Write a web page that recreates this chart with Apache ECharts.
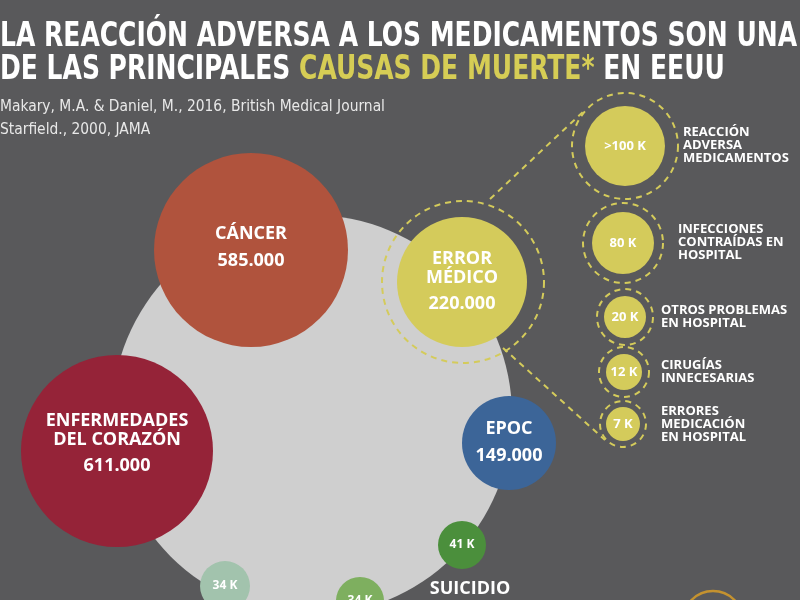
<!DOCTYPE html>
<html><head><meta charset="utf-8">
<script src="https://cdn.jsdelivr.net/npm/echarts/dist/echarts.min.js"></script>
<style>html,body{margin:0;padding:0;background:#59595b}#c{width:800px;height:600px}</style>
</head><body><div id="c"></div><script>
// ---------- data ----------
const titleLine1 = 'LA REACCIÓN ADVERSA A LOS MEDICAMENTOS SON UNA';
const titleLine2a = 'DE LAS PRINCIPALES ';
const titleHighlight = 'CAUSAS DE MUERTE*';
const titleLine2b = ' EN EEUU';
const sources = ['Makary, M.A. & Daniel, M., 2016, British Medical Journal', 'Starfield., 2000, JAMA'];

const causes = ['CÁNCER', 'ENFERMEDADES\nDEL CORAZÓN', 'ERROR\nMÉDICO', 'EPOC'];
const causeDeaths = [585000, 611000, 220000, 149000];

const minorCauses = ['SUICIDIO', '', ''];
const minorDeathsK = [41, 34, 34];

const errorTypes = ['REACCIÓN\nADVERSA\nMEDICAMENTOS', 'INFECCIONES\nCONTRAÍDAS EN\nHOSPITAL', 'OTROS PROBLEMAS\nEN HOSPITAL', 'CIRUGÍAS\nINNECESARIAS', 'ERRORES\nMEDICACIÓN\nEN HOSPITAL'];
const errorDeathsK = [100, 80, 20, 12, 7];
const errorQualifier = ['>', '', '', '', ''];

// ---------- layout (px: x, y, radius) ----------
const backdrop = [312, 415, 200];
const causeLayout = [[251, 250, 97], [117, 451, 96], [462, 282, 65], [509, 443, 47]];
const causeLabelDy = [-3, -8, -1, -1];
const causeColors = ['#b0533d', '#952338', '#d4cb5b', '#3c6598'];
const errorMainRing = [463, 282, 81];
const minorLayout = [[462, 545, 24], [225, 586, 25], [360, 601, 24]];
const minorColors = ['#4b8f3c', '#a2c3ad', '#7eaf5f'];
const errorLayout = [[625, 146, 40], [623, 243, 31], [625, 317, 21], [624, 372, 18], [623, 424, 17]];
const errorRing = [53, 40, 28, 25, 23];
const errorLabelX = [682, 677, 660, 660, 660];
const errorLabelDy = [-1, -1, 0, 0, 0];
const connectors = [[[490, 199], [585, 110]], [[503, 348], [605, 440]]];
const goldRing = [713, 621, 30];

const YEL = '#d4cb5b';
const cond = '"DejaVu Sans Condensed", "Liberation Sans Narrow", sans-serif';
const bold = '"Open Sans", "Noto Sans", sans-serif';
const fmt = n => String(n).replace(/\B(?=(\d{3})+(?!\d))/g, '.');

const chart = echarts.init(document.getElementById('c'), null, {renderer: 'canvas'});
chart.setOption({
  backgroundColor: '#59595b',
  animation: false,
  graphic: [{
    type: 'text', x: 0, y: 21, scaleX: 0.818, silent: true,
    style: {
      text: titleLine1 + '\n' + titleLine2a + '{y|' + titleHighlight + '}' + titleLine2b,
      fill: '#ffffff', fontSize: 34, fontWeight: 'bold', fontFamily: cond, lineHeight: 33, verticalAlign: 'top',
      rich: {y: {fill: '#d6cd55', fontSize: 34, fontWeight: 'bold', fontFamily: cond, lineHeight: 33}}
    }
  }],
  title: [{
    left: 0, top: 95, padding: 0,
    text: sources.join('\n'),
    textStyle: {color: '#e8e8e8', fontSize: 15.4, fontWeight: 'normal', fontFamily: cond, lineHeight: 23}
  }],
  grid: {left: 0, right: 0, top: 0, bottom: 0},
  xAxis: {type: 'value', min: 0, max: 800, show: false},
  yAxis: {type: 'value', min: 0, max: 600, inverse: true, show: false},
  series: [
    { type: 'scatter', silent: true, z: 1, clip: false,
      data: [[backdrop[0], backdrop[1]]], symbolSize: backdrop[2] * 2,
      itemStyle: {color: '#cfcfcf', opacity: 1} },
    { type: 'lines', coordinateSystem: 'cartesian2d', silent: true, z: 2,
      data: connectors.map(c => ({coords: c})),
      lineStyle: {color: YEL, width: 2, type: [6, 5], opacity: 1} },
    { type: 'scatter', silent: true, z: 3, clip: false,
      data: [{value: [errorMainRing[0], errorMainRing[1]], symbolSize: errorMainRing[2] * 2}].concat(
        errorLayout.map((p, i) => ({
          value: [p[0], p[1]], symbolSize: errorRing[i] * 2, name: errorTypes[i],
          label: {show: true, position: 'right', offset: [0, errorLabelDy[i]], distance: errorLabelX[i] - p[0] - errorRing[i]}
        }))),
      itemStyle: {color: 'rgba(0,0,0,0)', borderColor: YEL, borderWidth: 2, borderType: [6, 5], opacity: 1},
      label: {show: false, formatter: p => p.name, color: '#ffffff', fontFamily: bold, fontWeight: 'bold', fontSize: 13, lineHeight: 13, align: 'left'} },
    { type: 'scatter', silent: true, z: 4, clip: false,
      data: causes.map((n, i) => ({
        value: [causeLayout[i][0], causeLayout[i][1]], symbolSize: causeLayout[i][2] * 2, name: n,
        itemStyle: {color: causeColors[i]},
        label: {offset: [0, causeLabelDy[i]], formatter: n.split('\n').map(s => '{n|' + s + '}').join('\n') + '\n{v|' + fmt(causeDeaths[i]) + '}'}
      })),
      itemStyle: {opacity: 1},
      label: {show: true, position: 'inside', color: '#ffffff',
        rich: {n: {color: '#ffffff', fontFamily: bold, fontWeight: 'bold', fontSize: 18, lineHeight: 19, align: 'center'},
               v: {color: '#ffffff', fontFamily: bold, fontWeight: 'bold', fontSize: 18, lineHeight: 26, align: 'center', verticalAlign: 'bottom'}}} },
    { type: 'scatter', silent: true, z: 4, clip: false,
      data: errorLayout.map((p, i) => ({value: [p[0], p[1]], symbolSize: p[2] * 2, name: errorQualifier[i] + errorDeathsK[i] + ' K'})),
      itemStyle: {color: YEL, opacity: 1},
      label: {show: true, position: 'inside', formatter: p => p.name, color: '#ffffff', fontFamily: bold, fontWeight: 'bold', fontSize: 13} },
    { type: 'scatter', silent: true, z: 4, clip: false,
      data: minorLayout.map((p, i) => ({value: [p[0], p[1]], symbolSize: p[2] * 2, name: minorDeathsK[i] + ' K', itemStyle: {color: minorColors[i]}})),
      itemStyle: {opacity: 1},
      label: {show: true, position: 'inside', formatter: p => p.name, color: '#ffffff', fontFamily: bold, fontWeight: 'bold', fontSize: 12} },
    { type: 'scatter', silent: true, z: 5, clip: false,
      data: minorLayout.map((p, i) => ({value: [p[0], p[1]], symbolSize: p[2] * 2, name: minorCauses[i]})),
      itemStyle: {color: 'rgba(0,0,0,0)', opacity: 1},
      label: {show: true, position: 'bottom', distance: 10, offset: [8, 0], formatter: p => p.name, color: '#ffffff', fontFamily: bold, fontWeight: 'bold', fontSize: 18, lineHeight: 20} },
    { type: 'scatter', silent: true, z: 3, clip: false,
      data: [[goldRing[0], goldRing[1]]], symbolSize: goldRing[2] * 2,
      itemStyle: {color: 'rgba(0,0,0,0)', borderColor: '#c4922f', borderWidth: 2.5, opacity: 1} }
  ]
});
</script></body></html>
